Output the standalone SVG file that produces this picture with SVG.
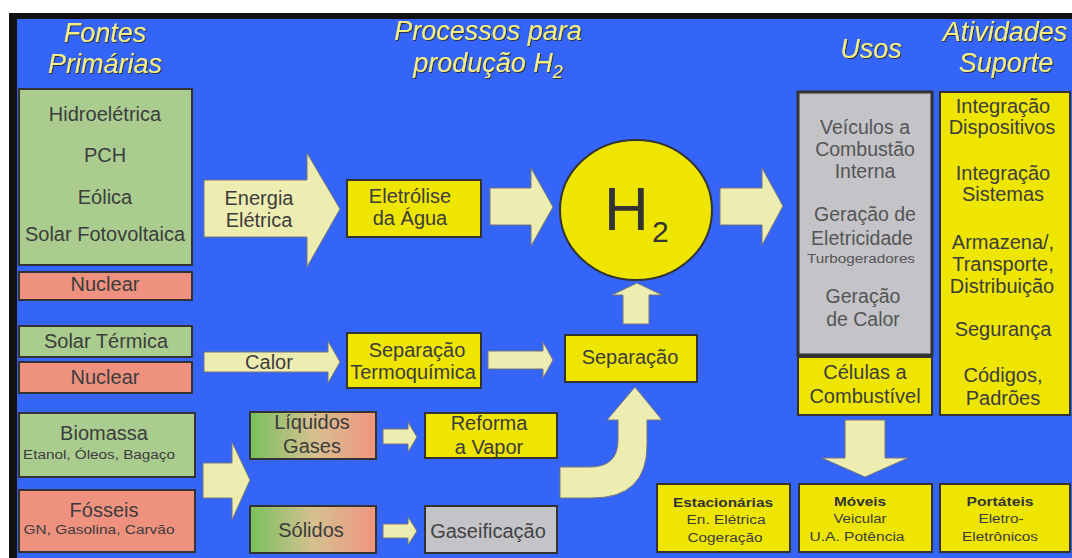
<svg xmlns="http://www.w3.org/2000/svg" width="1072" height="558" viewBox="0 0 1072 558">
<defs>
<style>
.hdr{font-family:"Liberation Sans",Arial,sans-serif;font-style:italic;font-size:27px;fill:#F3EF86;text-anchor:middle;filter:url(#sh)}
.t{font-family:"Liberation Sans",Arial,sans-serif;font-size:20px;fill:#3c3c3c;text-anchor:middle}
.tg{font-family:"Liberation Sans",Arial,sans-serif;font-size:19.5px;fill:#555;text-anchor:middle}
.s{font-family:"Liberation Sans",Arial,sans-serif;font-size:12px;fill:#3c3c3c;text-anchor:middle}
.sb{font-family:"Liberation Sans",Arial,sans-serif;font-size:12px;font-weight:bold;fill:#333;text-anchor:middle}
.green{fill:#AACD8F;stroke:#333;stroke-width:2}
.red{fill:#EE917F;stroke:#333;stroke-width:2}
.yel{fill:#EEE600;stroke:#333;stroke-width:2}
.gry{fill:#C3C3C8;stroke:#333;stroke-width:2}
.arr{fill:#EEEDB1;stroke:#777;stroke-width:1}
</style>
<filter id="sh" x="-10%" y="-20%" width="120%" height="140%">
<feDropShadow dx="1" dy="1" stdDeviation="0.7" flood-color="#2a2a2a" flood-opacity="0.9"/>
</filter>
<linearGradient id="gr" x1="0" y1="0" x2="1" y2="0">
<stop offset="0" stop-color="#78C05E"/>
<stop offset="0.5" stop-color="#D6C090"/>
<stop offset="1" stop-color="#EF9580"/>
</linearGradient>
</defs>
<rect x="0" y="0" width="1072" height="558" fill="#fff"/>
<rect x="9" y="13" width="1063" height="545" fill="#111"/>
<rect x="17" y="19" width="1055" height="539" fill="#3464F8"/>

<g id="headers">
<text class="hdr" x="105" y="42">Fontes</text>
<text class="hdr" x="105" y="73">Primárias</text>
<text class="hdr" x="488" y="40">Processos para</text>
<text class="hdr" x="488" y="72">produção H<tspan font-size="18" dy="6">2</tspan></text>
<text class="hdr" x="871" y="58">Usos</text>
<text class="hdr" x="1005" y="41">Atividades</text>
<text class="hdr" x="1006" y="72">Suporte</text>
</g>

<g id="connectors">
<path class="arr" d="M204,180 L307,180 L307,153 L340,209 L307,267 L307,237 L204,237 Z"/>
<text class="t" x="259" y="205">Energia</text>
<text class="t" x="259" y="227">Elétrica</text>
<path class="arr" d="M490,188 L531,188 L531,168 L553,207 L531,246 L531,225 L490,225 Z"/>
<path class="arr" d="M720,188 L762,188 L762,168 L783,206 L762,245 L762,225 L720,225 Z"/>
<path class="arr" d="M204,352 L328,352 L328,341 L340,362 L328,383 L328,372 L204,372 Z"/>
<text class="t" x="269" y="369">Calor</text>
<path class="arr" d="M488,351 L543,351 L543,342 L553,360 L543,378 L543,369 L488,369 Z"/>
<path class="arr" d="M623,324 L623,295 L612,295 L637,283 L662,295 L649,295 L649,324 Z"/>
<path class="arr" d="M560,467 L590,467 Q618,467 618,440 L618,420 L607,420 L635,387 L662,420 L647,420 L647,445 Q647,498 592,498 L560,498 Z"/>
<path class="arr" d="M203,463 L232,463 L232,442 L250,480 L232,520 L232,498 L203,498 Z"/>
<path class="arr" d="M383,429 L408,429 L408,422 L417,437 L408,452 L408,444 L383,444 Z"/>
<path class="arr" d="M383,524 L408,524 L408,517 L417,531 L408,545 L408,538 L383,538 Z"/>
<path class="arr" d="M845,420 L885,420 L885,458 L908,458 L865,477 L822,458 L845,458 Z"/>
</g>

<g id="n-renovaveis">
<rect class="green" x="19" y="89" width="173" height="176"/>
<text class="t" x="105" y="121">Hidroelétrica</text>
<text class="t" x="105" y="162">PCH</text>
<text class="t" x="105" y="204">Eólica</text>
<text class="t" x="105" y="241">Solar Fotovoltaica</text>
</g>
<g id="n-nuclear1">
<rect class="red" x="19" y="272" width="173" height="28"/>
<text class="t" x="105" y="291">Nuclear</text>
</g>
<g id="n-solartermica">
<rect class="green" x="19" y="326" width="173" height="31"/>
<text class="t" x="106" y="348">Solar Térmica</text>
</g>
<g id="n-nuclear2">
<rect class="red" x="19" y="362" width="173" height="31"/>
<text class="t" x="105" y="384">Nuclear</text>
</g>
<g id="n-biomassa">
<rect class="green" x="19" y="413" width="176" height="64"/>
<text class="t" x="104" y="440">Biomassa</text>
<text class="s" x="99" y="459" textLength="152" lengthAdjust="spacingAndGlyphs">Etanol, Óleos, Bagaço</text>
</g>
<g id="n-fosseis">
<rect class="red" x="19" y="490" width="176" height="62"/>
<text class="t" x="104" y="517">Fósseis</text>
<text class="s" x="99" y="534" textLength="151" lengthAdjust="spacingAndGlyphs">GN, Gasolina, Carvão</text>
</g>

<g id="n-eletrolise">
<rect class="yel" x="347" y="180" width="134" height="57"/>
<text class="t" x="410" y="203">Eletrólise</text>
<text class="t" x="410" y="225">da Água</text>
</g>
<g id="n-termoquimica">
<rect class="yel" x="347" y="333" width="134" height="55"/>
<text class="t" x="417" y="357">Separação</text>
<text class="t" x="413" y="379">Termoquímica</text>
</g>
<g id="n-h2">
<ellipse cx="636" cy="210" rx="76" ry="70" fill="#EEE600" stroke="#333" stroke-width="2"/>
<text x="604" y="230" font-family="'Liberation Sans',Arial,sans-serif" font-size="62" fill="#333">H</text>
<text x="652" y="242" font-family="'Liberation Sans',Arial,sans-serif" font-size="30" fill="#333">2</text>
</g>
<g id="n-separacao">
<rect class="yel" x="565" y="335" width="132" height="47"/>
<text class="t" x="630" y="364">Separação</text>
</g>
<g id="n-liquidos">
<rect x="250" y="412" width="126" height="47" fill="url(#gr)" stroke="#333" stroke-width="2"/>
<text class="t" x="312" y="429">Líquidos</text>
<text class="t" x="312" y="453">Gases</text>
</g>
<g id="n-solidos">
<rect x="250" y="506" width="126" height="47" fill="url(#gr)" stroke="#333" stroke-width="2"/>
<text class="t" x="311" y="537">Sólidos</text>
</g>
<g id="n-reforma">
<rect class="yel" x="425" y="413" width="132" height="45"/>
<text class="t" x="489" y="430">Reforma</text>
<text class="t" x="489" y="454">a Vapor</text>
</g>
<g id="n-gaseificacao">
<rect class="gry" x="425" y="506" width="132" height="47"/>
<text class="t" x="488" y="538" style="fill:#444">Gaseificação</text>
</g>

<g id="n-usos">
<rect class="gry" x="798" y="92" width="134" height="263" style="stroke-width:3"/>
<text class="tg" x="865" y="134">Veículos a</text>
<text class="tg" x="865" y="156">Combustão</text>
<text class="tg" x="865" y="178">Interna</text>
<text class="tg" x="865" y="221">Geração de</text>
<text class="tg" x="862" y="245">Eletricidade</text>
<text class="tg" x="861" y="263" style="font-size:12px" textLength="108" lengthAdjust="spacingAndGlyphs">Turbogeradores</text>
<text class="tg" x="863" y="303">Geração</text>
<text class="tg" x="863" y="326">de Calor</text>
</g>
<g id="n-celulas">
<rect class="yel" x="798" y="357" width="134" height="58"/>
<text class="t" x="865" y="379">Células a</text>
<text class="t" x="865" y="403">Combustível</text>
</g>
<g id="n-atividades">
<rect class="yel" x="940" y="92" width="130" height="323"/>
<text class="t" x="1003" y="113">Integração</text>
<text class="t" x="1002" y="134">Dispositivos</text>
<text class="t" x="1003" y="180">Integração</text>
<text class="t" x="1003" y="201">Sistemas</text>
<text class="t" x="1003" y="249">Armazena/,</text>
<text class="t" x="1003" y="271">Transporte,</text>
<text class="t" x="1002" y="293">Distribuição</text>
<text class="t" x="1003" y="336">Segurança</text>
<text class="t" x="1003" y="382">Códigos,</text>
<text class="t" x="1003" y="405">Padrões</text>
</g>
<g id="n-estacionarias">
<rect class="yel" x="657" y="484" width="133" height="68"/>
<text class="sb" x="723" y="507" textLength="100" lengthAdjust="spacingAndGlyphs">Estacionárias</text>
<text class="s" x="726" y="524" textLength="79" lengthAdjust="spacingAndGlyphs">En. Elétrica</text>
<text class="s" x="725" y="542" textLength="75" lengthAdjust="spacingAndGlyphs">Cogeração</text>
</g>
<g id="n-moveis">
<rect class="yel" x="799" y="484" width="133" height="68"/>
<text class="sb" x="860" y="506" textLength="52" lengthAdjust="spacingAndGlyphs">Móveis</text>
<text class="s" x="860" y="523" textLength="53" lengthAdjust="spacingAndGlyphs">Veicular</text>
<text class="s" x="857" y="541" textLength="95" lengthAdjust="spacingAndGlyphs">U.A. Potência</text>
</g>
<g id="n-portateis">
<rect class="yel" x="940" y="484" width="130" height="68"/>
<text class="sb" x="1000" y="506" textLength="67" lengthAdjust="spacingAndGlyphs">Portáteis</text>
<text class="s" x="1001" y="523" textLength="45" lengthAdjust="spacingAndGlyphs">Eletro-</text>
<text class="s" x="1000" y="541" textLength="76" lengthAdjust="spacingAndGlyphs">Eletrônicos</text>
</g>
</svg>
